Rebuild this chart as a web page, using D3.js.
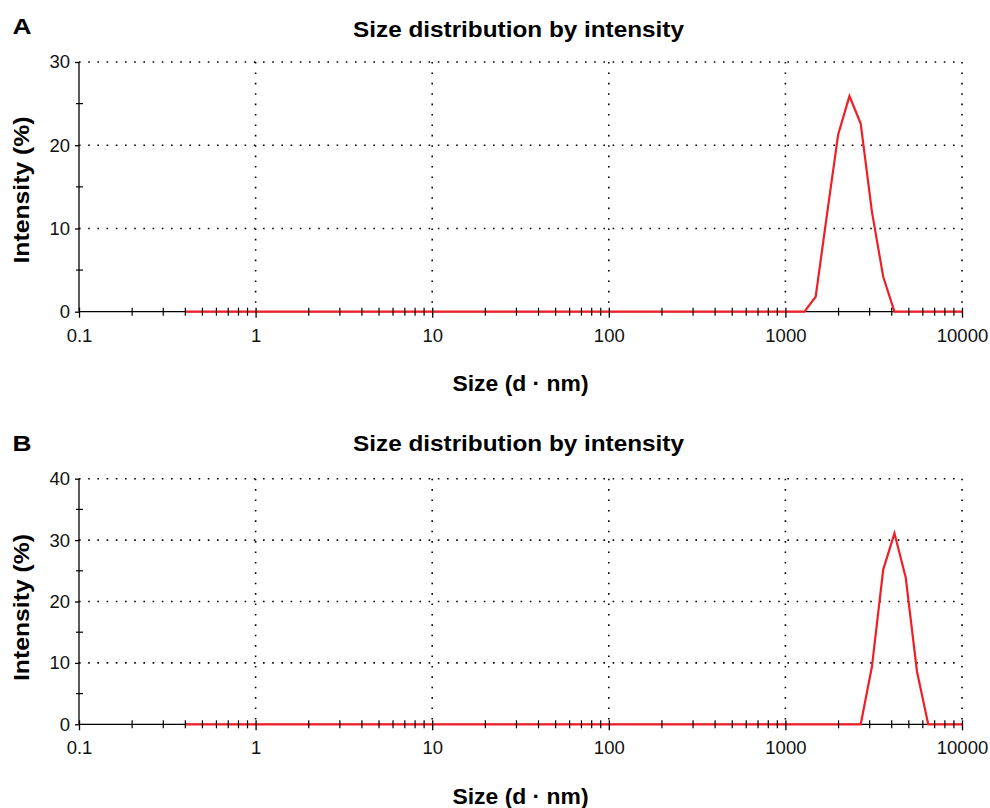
<!DOCTYPE html>
<html>
<head>
<meta charset="utf-8">
<script src="https://cdn.jsdelivr.net/npm/d3@7"></script>
<style>
  body { margin: 0; background: #fff; }
  text { font-family: "Liberation Sans", Arial, sans-serif; }
</style>
</head>
<body>
<div id="chart"></div>
<script>
// size classes (d.nm) of the instrument
const sizes = [
  0.4, 0.4632, 0.5365, 0.6213, 0.7195, 0.8332, 0.9649, 1.117, 1.294, 1.499,
  1.736, 2.01, 2.328, 2.696, 3.122, 3.615, 4.187, 4.849, 5.615, 6.503,
  7.531, 8.721, 10.1, 11.7, 13.54, 15.69, 18.17, 21.04, 24.36, 28.21,
  32.67, 37.84, 43.82, 50.75, 58.77, 68.06, 78.82, 91.28, 105.7, 122.4,
  141.8, 164.2, 190.1, 220.2, 255.0, 295.3, 342.0, 396.1, 458.7, 531.2,
  615.1, 712.4, 825.0, 955.4, 1106, 1281, 1484, 1718, 1990, 2305,
  2669, 3091, 3580, 4145, 4801, 5560, 6439, 7456, 8635, 10000
];

// intensity (%) per size class, panel A
const intensityA = [
  0, 0, 0, 0, 0, 0, 0, 0, 0, 0,
  0, 0, 0, 0, 0, 0, 0, 0, 0, 0,
  0, 0, 0, 0, 0, 0, 0, 0, 0, 0,
  0, 0, 0, 0, 0, 0, 0, 0, 0, 0,
  0, 0, 0, 0, 0, 0, 0, 0, 0, 0,
  0, 0, 0, 0, 0, 0, 1.8, 11.6, 21.3, 25.9,
  22.6, 12.0, 4.2, 0, 0, 0, 0, 0, 0, 0
];

// intensity (%) per size class, panel B
const intensityB = [
  0, 0, 0, 0, 0, 0, 0, 0, 0, 0,
  0, 0, 0, 0, 0, 0, 0, 0, 0, 0,
  0, 0, 0, 0, 0, 0, 0, 0, 0, 0,
  0, 0, 0, 0, 0, 0, 0, 0, 0, 0,
  0, 0, 0, 0, 0, 0, 0, 0, 0, 0,
  0, 0, 0, 0, 0, 0, 0, 0, 0, 0,
  0, 9.4, 25.2, 31.1, 23.9, 8.6, 0, 0, 0, 0
];

const xTickValues = [0.1, 1, 10, 100, 1000, 10000];
const yTicksA = [0, 10, 20, 30];
const yTicksB = [0, 10, 20, 30, 40];

const titleText = "Size distribution by intensity";
const xTitleText = "Size (d \u00B7 nm)";
const yTitleText = "Intensity (%)";

const width = 990, height = 808;
const left = 79, right = 962;

const svg = d3.select("#chart")
  .append("svg")
  .attr("width", width)
  .attr("height", height);

const panels = [
  { letter: "A", values: intensityA, yTicks: yTicksA, top: 62, bottom: 311.7,
    letterY: 33.5, titleY: 36.9, xTitleY: 391.2, yTitleY: 190 },
  { letter: "B", values: intensityB, yTicks: yTicksB, top: 478.7, bottom: 724.3,
    letterY: 450.9, titleY: 450.5, xTitleY: 803.7, yTitleY: 607.5 }
];

const drawPanel = (p) => {
  const g = svg.append("g");
  const yMax = d3.max(p.yTicks);

  const x = d3.scaleLog().domain([0.1, 10000]).range([left, right]);
  const y = d3.scaleLinear().domain([0, yMax]).range([p.bottom, p.top]);

  // dotted grid
  g.selectAll(".hgrid")
    .data(p.yTicks.filter(d => d > 0))
    .join("line")
    .attr("x1", left).attr("x2", right)
    .attr("y1", d => y(d)).attr("y2", d => y(d))
    .attr("stroke", "#000")
    .attr("stroke-width", 1.6)
    .attr("stroke-dasharray", "1.6,7.6");

  g.selectAll(".vgrid")
    .data(xTickValues.filter(d => d > 0.1))
    .join("line")
    .attr("x1", d => x(d)).attr("x2", d => x(d))
    .attr("y1", p.top).attr("y2", p.bottom)
    .attr("stroke", "#000")
    .attr("stroke-width", 1.6)
    .attr("stroke-dasharray", "1.6,8.8");

  // axis lines
  g.append("line")
    .attr("x1", left).attr("x2", left)
    .attr("y1", p.top).attr("y2", p.bottom)
    .attr("stroke", "#000").attr("stroke-width", 1.3);
  g.append("line")
    .attr("x1", left).attr("x2", right)
    .attr("y1", p.bottom).attr("y2", p.bottom)
    .attr("stroke", "#000").attr("stroke-width", 1.3);

  // distribution line
  const points = sizes.map((s, i) => ({ size: s, value: p.values[i] }));
  const line = d3.line()
    .x(d => x(d.size))
    .y(d => y(d.value));

  g.append("path")
    .datum(points)
    .attr("d", line)
    .attr("fill", "none")
    .attr("stroke", "#ee1f27")
    .attr("stroke-width", 2.2)
    .attr("stroke-linejoin", "miter");

  // minor ticks
  const minorX = [];
  [0.1, 1, 10, 100, 1000].forEach(dec => {
    for (let k = 2; k <= 9; k++) minorX.push(k * dec);
  });
  g.selectAll(".minorx")
    .data(minorX)
    .join("line")
    .attr("x1", d => x(d)).attr("x2", d => x(d))
    .attr("y1", p.bottom - 4).attr("y2", p.bottom + 4)
    .attr("stroke", "#000").attr("stroke-width", 1.2);

  const minorY = p.yTicks.slice(1).map(d => d - 5);
  g.selectAll(".minory")
    .data(minorY)
    .join("line")
    .attr("x1", left - 3).attr("x2", left + 4)
    .attr("y1", d => y(d)).attr("y2", d => y(d))
    .attr("stroke", "#000").attr("stroke-width", 1.2);

  // axes (major ticks + labels)
  const xAxis = g.append("g")
    .attr("transform", `translate(0,${p.bottom})`)
    .call(d3.axisBottom(x)
      .tickValues(xTickValues)
      .tickFormat(d => String(d))
      .tickSize(6)
      .tickSizeOuter(0)
      .tickPadding(10.8));
  xAxis.select(".domain").remove();
  xAxis.selectAll(".tick line")
    .attr("y1", -4).attr("y2", 6)
    .attr("stroke-width", 1.3);
  xAxis.selectAll("text")
    .style("font-size", "18.5px")
    .style("font-family", "'Liberation Sans', Arial, sans-serif")
    .attr("fill", "#111");

  const yAxis = g.append("g")
    .attr("transform", `translate(${left},0)`)
    .call(d3.axisLeft(y)
      .tickValues(p.yTicks)
      .tickSize(4)
      .tickSizeOuter(0)
      .tickPadding(5));
  yAxis.select(".domain").remove();
  yAxis.selectAll(".tick line").attr("stroke-width", 1.3);
  yAxis.selectAll("text")
    .style("font-size", "18.5px")
    .style("font-family", "'Liberation Sans', Arial, sans-serif")
    .attr("fill", "#111");

  // titles
  svg.append("text")
    .attr("x", 12.5)
    .attr("y", p.letterY)
    .attr("textLength", 19)
    .attr("lengthAdjust", "spacingAndGlyphs")
    .style("font-size", "22.5px")
    .style("font-weight", "bold")
    .text(p.letter);

  svg.append("text")
    .attr("x", (left + right) / 2 - 2)
    .attr("y", p.titleY)
    .attr("text-anchor", "middle")
    .attr("textLength", 331)
    .attr("lengthAdjust", "spacingAndGlyphs")
    .style("font-size", "22.5px")
    .style("font-weight", "bold")
    .text(titleText);

  svg.append("text")
    .attr("x", (left + right) / 2)
    .attr("y", p.xTitleY)
    .attr("text-anchor", "middle")
    .attr("textLength", 136)
    .attr("lengthAdjust", "spacingAndGlyphs")
    .style("font-size", "22.5px")
    .style("font-weight", "bold")
    .text(xTitleText);

  svg.append("text")
    .attr("transform", `translate(29,${p.yTitleY}) rotate(-90)`)
    .attr("text-anchor", "middle")
    .attr("textLength", 147)
    .attr("lengthAdjust", "spacingAndGlyphs")
    .style("font-size", "22.5px")
    .style("font-weight", "bold")
    .text(yTitleText);
};

panels.forEach(drawPanel);
</script>
</body>
</html>
